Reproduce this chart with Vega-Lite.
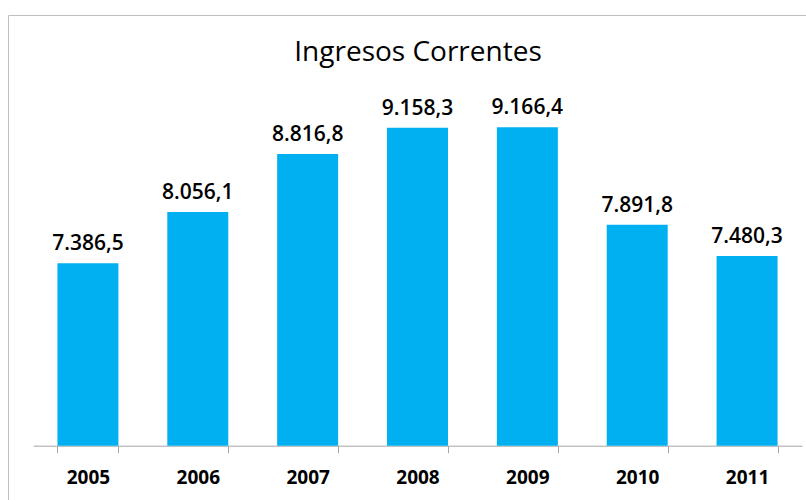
{
  "$schema": "https://vega.github.io/schema/vega-lite/v6.json",
  "autosize": {"type": "none"},
  "padding": {"left": 8, "top": 15, "right": 0, "bottom": 0},
  "width": 798,
  "height": 485,
  "background": "white",
  "title": {
    "text": "Ingresos Correntes",
    "font": "Open Sans",
    "fontSize": 28,
    "fontWeight": 500,
    "color": "#000000",
    "anchor": "middle",
    "offset": 0,
    "dy": 52,
    "dx": 11
  },
  "data": {
    "values": [
      {"ano": "2005", "valor": 7386.5},
      {"ano": "2006", "valor": 8056.1},
      {"ano": "2007", "valor": 8816.8},
      {"ano": "2008", "valor": 9158.3},
      {"ano": "2009", "valor": 9166.4},
      {"ano": "2010", "valor": 7891.8},
      {"ano": "2011", "valor": 7480.3}
    ]
  },
  "encoding": {
    "x": {
      "field": "ano",
      "type": "ordinal",
      "scale": {"range": [25, 794], "paddingInner": 0.445, "paddingOuter": 0.2225},
      "axis": {
        "title": null,
        "orient": "bottom",
        "offset": -54.3,
        "tickBand": "extent",
        "domainColor": "#a6a6a6",
        "tickColor": "#a6a6a6",
        "tickSize": 7,
        "labelAngle": 0,
        "labelFont": "Open Sans",
        "labelFontSize": 19,
        "labelFontWeight": "bold",
        "labelColor": "#000000",
        "labelPadding": 16
      }
    }
  },
  "layer": [
    {
      "mark": {"type": "bar", "color": "#00B0F0"},
      "encoding": {
        "y": {
          "field": "valor",
          "type": "quantitative",
          "scale": {"domain": [5000, 10000], "range": [430.7, 48.5], "zero": false, "nice": false},
          "axis": null
        },
        "y2": {"datum": 5000}
      }
    },
    {
      "mark": {"type": "text", "baseline": "alphabetic", "dy": -13, "font": "Open Sans", "fontSize": 21, "fontWeight": 600, "color": "#000000"},
      "encoding": {
        "y": {"field": "valor", "type": "quantitative"},
        "text": {"field": "valor", "type": "quantitative", "format": ",.1f"}
      }
    }
  ],
  "config": {
    "view": {"stroke": "#bfbfbf", "strokeWidth": 1},
    "locale": {"number": {"decimal": ",", "thousands": ".", "grouping": [3], "currency": ["", ""]}}
  }
}
